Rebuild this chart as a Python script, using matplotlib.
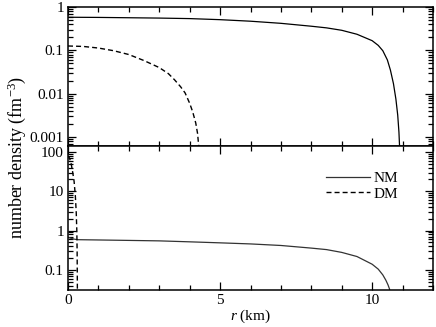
"""Number density profiles of normal matter (NM) and dark matter (DM) vs radius."""
import matplotlib
matplotlib.use("Agg")
import matplotlib.pyplot as plt
import matplotlib.ticker as ticker

# ── data ─────────────────────────────────────────────────────────────────────

# upper panel
r_nm_top = [0, 1, 2, 3, 4, 5, 6, 7, 8, 8.5, 9, 9.5, 10, 10.2, 10.35, 10.5,
            10.6, 10.7, 10.78, 10.84, 10.88, 10.92]
n_nm_top = [0.58, 0.575, 0.565, 0.555, 0.54, 0.51, 0.47, 0.42, 0.36, 0.33,
            0.29, 0.235, 0.167, 0.13, 0.098, 0.06, 0.035, 0.017, 0.0075,
            0.0032, 0.0013, 0.0003]
r_dm_top = [0, 0.5, 1, 1.5, 2, 2.5, 3, 3.3, 3.5, 3.7, 3.85, 4.0, 4.1, 4.2,
            4.26, 4.31]
n_dm_top = [0.126, 0.123, 0.113, 0.098, 0.08, 0.058, 0.04, 0.029, 0.021,
            0.0145, 0.0104, 0.006, 0.0038, 0.0021, 0.0012, 0.0005]

# lower panel
r_nm_bot = [0, 0.1, 0.2, 0.3, 1, 2, 3, 4, 5, 6, 7, 8, 8.5, 9, 9.5, 10, 10.2,
            10.35, 10.45, 10.52, 10.57, 10.6]
n_nm_bot = [0.68, 0.64, 0.61, 0.59, 0.58, 0.565, 0.55, 0.52, 0.49, 0.46,
            0.42, 0.36, 0.33, 0.28, 0.22, 0.14, 0.105, 0.075, 0.055, 0.042,
            0.033, 0.025]
r_dm_bot = [0, 0.05, 0.1, 0.15, 0.2, 0.24, 0.27, 0.29, 0.3, 0.305, 0.31]
n_dm_bot = [80, 70, 52, 32, 18, 8, 3, 1, 0.3, 0.08, 0.02]

top_yticks = [0.001, 0.01, 0.1, 1]
bot_yticks = [0.1, 1, 10, 100]
x_ticks = [0, 5, 10]

# ── style ────────────────────────────────────────────────────────────────────

plt.rcParams["font.family"] = ["Liberation Serif", "DejaVu Serif"]
plt.rcParams["font.size"] = 11
plt.rcParams["mathtext.fontset"] = "custom"
plt.rcParams["mathtext.rm"] = "Liberation Serif"
plt.rcParams["mathtext.it"] = "Liberation Serif:italic"

DASH = (0, (3.6, 2.2))


def style_axis(ax, yticks):
    ax.set_yscale("log")
    ax.set_xlim(0, 12)
    ax.xaxis.set_major_locator(ticker.FixedLocator(x_ticks))
    ax.xaxis.set_minor_locator(ticker.MultipleLocator(1))
    ax.yaxis.set_major_locator(ticker.FixedLocator(yticks))
    ax.yaxis.set_minor_locator(ticker.LogLocator(base=10, subs=range(2, 10)))
    ax.yaxis.set_major_formatter(ticker.FuncFormatter(lambda v, _: f"{v:g}"))
    ax.yaxis.set_minor_formatter(ticker.NullFormatter())
    ax.tick_params(which="both", direction="in", top=True, right=True,
                   width=0.9, pad=3)
    ax.tick_params(which="major", length=6)
    ax.tick_params(which="minor", length=3.5)
    for s in ax.spines.values():
        s.set_linewidth(1.1)


# ── figure ───────────────────────────────────────────────────────────────────

fig = plt.figure(figsize=(4.36, 3.27), dpi=100)
left, width = 68 / 436, 365 / 436
ax_top = fig.add_axes([left, 1 - 146 / 327, width, 139 / 327])
ax_bot = fig.add_axes([left, 1 - 290 / 327, width, 144 / 327])

ax_top.plot(r_nm_top, n_nm_top, color="black", lw=0.9)
ax_top.plot(r_dm_top, n_dm_top, color="black", lw=1.0, linestyle=DASH)
style_axis(ax_top, top_yticks)
ax_top.set_ylim(6.2e-4, 1)
ax_top.tick_params(labelbottom=False)

ax_bot.plot(r_nm_bot, n_nm_bot, color="#333333", lw=0.9, label="NM")
ax_bot.plot(r_dm_bot, n_dm_bot, color="black", lw=1.0, linestyle=DASH,
            label="DM")
style_axis(ax_bot, bot_yticks)
ax_bot.set_ylim(0.031, 142)
ax_bot.set_xlabel("$r$ (km)", labelpad=0.5)

ax_bot.legend(loc="upper right", bbox_to_anchor=(0.92, 0.865), frameon=False,
              handlelength=2.85, handletextpad=0.2, labelspacing=0.12,
              borderaxespad=0)

fig.text(17 / 436, 1 - 157 / 327, "number density (fm$^{-3}$)",
         rotation=90, ha="center", va="center", fontsize=13)

fig.savefig("out.png", dpi=100)
